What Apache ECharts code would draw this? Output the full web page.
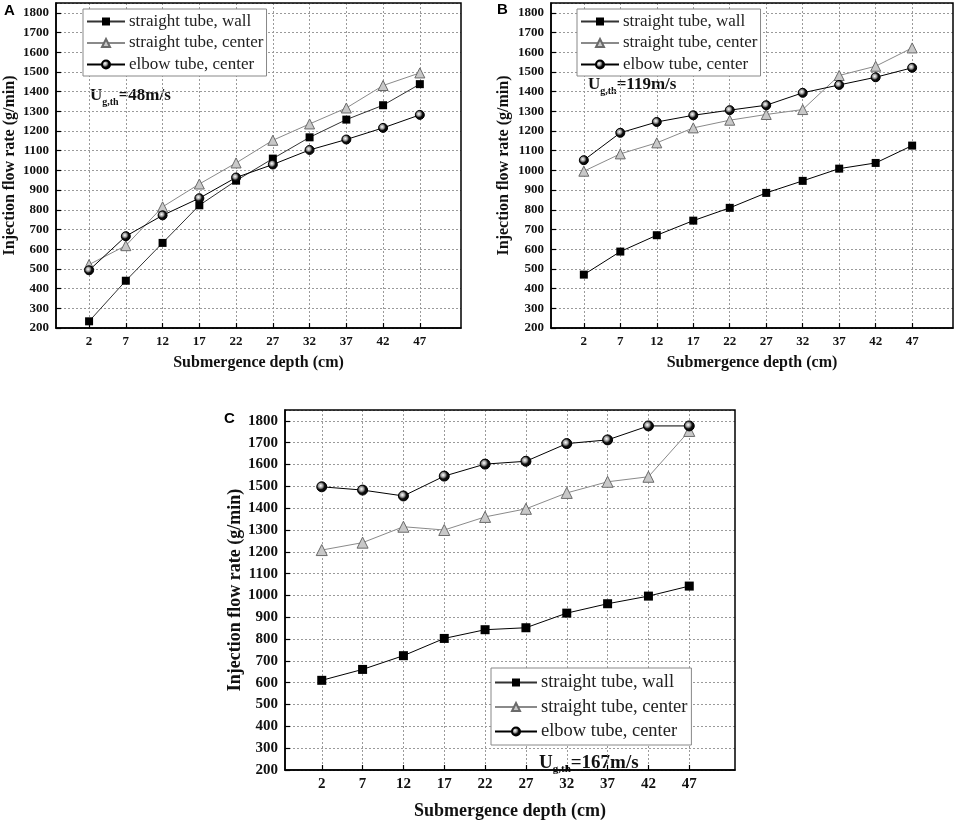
<!DOCTYPE html>
<html><head><meta charset="utf-8">
<script src="https://cdn.jsdelivr.net/npm/echarts@6/dist/echarts.min.js"></script>
<style>html,body{margin:0;padding:0;background:#fff}#c{width:957px;height:821px}</style>
</head><body><div id="c"></div>
<script>
// ---- data ----
const depths = [2, 7, 12, 17, 22, 27, 32, 37, 42, 47];
const seriesNames = ['straight tube, wall', 'straight tube, center', 'elbow tube, center'];
const aWall   = [234, 440, 632, 823, 948, 1060, 1168, 1258, 1331, 1438];
const aCenter = [522, 618, 815, 931, 1038, 1153, 1236, 1317, 1431, 1495];
const aElbow  = [493, 666, 772, 859, 964, 1030, 1104, 1157, 1216, 1282];
const bWall   = [471, 588, 671, 745, 810, 886, 947, 1009, 1038, 1126];
const bCenter = [996, 1084, 1140, 1216, 1255, 1284, 1309, 1482, 1529, 1622];
const bElbow  = [1052, 1191, 1246, 1280, 1306, 1331, 1394, 1434, 1473, 1521];
const cWall   = [611, 661, 724, 803, 843, 852, 919, 962, 997, 1043];
const cCenter = [1208, 1242, 1315, 1300, 1360, 1397, 1470, 1521, 1544, 1754];
const cElbow  = [1498, 1483, 1456, 1547, 1602, 1615, 1696, 1713, 1777, 1777];
const panelLetters = ['A', 'B', 'C'];
const velocityTexts = ['=48m/s', '=119m/s', '=167m/s'];
const xTitle = 'Submergence depth (cm)';
const yTitle = 'Injection flow rate (g/min)';

// ---- layout / style ----
const SERIF = '"Liberation Serif", "DejaVu Serif", serif';
const panels = [
  { grid: {left: 56, top: 3, width: 405, height: 325}, vals: [aWall, aCenter, aElbow],
    tick: 13, title: 16, xGap: 27, yGap: 38, legend: {left: 83, top: 9, font: 17, w: 38, gap: 4.5, pad: [4, 3, 3, 3]},
    sym: 8, letter: [4, 3], note: [90, 96, 17, 10] , wallColor: '#333'},
  { grid: {left: 551, top: 3, width: 402, height: 325}, vals: [bWall, bCenter, bElbow],
    tick: 13, title: 16, xGap: 27, yGap: 39, legend: {left: 577, top: 9, font: 17, w: 38, gap: 4.5, pad: [4, 3, 3, 3]},
    sym: 8, letter: [497, 2], note: [588, 85, 17, 10], wallColor: '#000'},
  { grid: {left: 285, top: 410, width: 450, height: 387}, vals: [cWall, cCenter, cElbow],
    tick: 15, title: 18, xGap: 32, yGap: 41, legend: {left: 491, top: 668, font: 18.5, w: 42, gap: 5.5, pad: [5, 4, 4, 3]},
    sym: 9, letter: [224, 411], note: [539, 763, 19, 11], wallColor: '#000'}
];

const ballGrad = {
  type: 'radial', x: 0.4, y: 0.4, r: 0.6,
  colorStops: [{offset: 0, color: '#ffffff'}, {offset: 0.35, color: '#9a9a9a'}, {offset: 0.6, color: '#111'}, {offset: 1, color: '#000'}]
};

const grids = [], xAxes = [], yAxes = [], series = [], legends = [], graphics = [];
panels.forEach((p, i) => {
  grids.push(Object.assign({show: true, borderColor: '#000', borderWidth: 1.5, backgroundColor: 'transparent', z: 3}, p.grid));
  xAxes.push({
    type: 'value', gridIndex: i, min: -2.5, max: 52.6,
    name: xTitle, nameLocation: 'middle', nameGap: p.xGap,
    nameTextStyle: {fontFamily: SERIF, fontWeight: 'bold', fontSize: p.title, color: '#111'},
    axisLine: {onZero: false, lineStyle: {color: '#000', width: 1.5}},
    axisTick: {inside: true, length: 5, customValues: depths, lineStyle: {color: '#000', width: 1.2}},
    axisLabel: {customValues: depths, margin: 7, fontFamily: SERIF, fontWeight: 'bold', fontSize: p.tick, color: '#111',
                formatter: v => String(v)},
    splitLine: {show: true, lineStyle: {color: '#9a9a9a', type: [2, 2], width: 1}}
  });
  yAxes.push({
    type: 'value', gridIndex: i, min: 200, max: 1850, interval: 100,
    name: yTitle, nameLocation: 'middle', nameGap: p.yGap,
    nameTextStyle: {fontFamily: SERIF, fontWeight: 'bold', fontSize: p.title, color: '#111'},
    axisLine: {onZero: false, lineStyle: {color: '#000', width: 1.5}},
    axisTick: {inside: true, length: 5, lineStyle: {color: '#000', width: 1.2}},
    axisLabel: {showMaxLabel: false, margin: 7, fontFamily: SERIF, fontWeight: 'bold', fontSize: p.tick, color: '#111',
                formatter: v => String(v)},
    splitLine: {show: true, lineStyle: {color: '#9a9a9a', type: [2, 2], width: 1}}
  });
  const styles = [
    {symbol: 'rect', size: p.sym, line: p.wallColor, item: {color: '#000', borderColor: '#000', borderWidth: 0}},
    {symbol: 'triangle', size: p.sym + 2, line: '#8a8a8a', item: {color: '#c8c8c8', borderColor: '#6a6a6a', borderWidth: 1}},
    {symbol: 'circle', size: p.sym + 1, line: '#000', item: {color: ballGrad, borderColor: '#000', borderWidth: 1}}
  ];
  p.vals.forEach((vals, k) => {
    series.push({
      type: 'line', name: seriesNames[k], xAxisIndex: i, yAxisIndex: i,
      data: depths.map((d, j) => [d, vals[j]]),
      symbol: styles[k].symbol, symbolSize: styles[k].size, showAllSymbol: true,
      lineStyle: {color: styles[k].line, width: 1}, itemStyle: styles[k].item,
      emphasis: {disabled: true}, animation: false, z: 2 + k
    });
  });
  legends.push({
    orient: 'vertical', left: p.legend.left, top: p.legend.top, padding: p.legend.pad,
    itemWidth: p.legend.w, itemHeight: 10, itemGap: p.legend.gap,
    backgroundColor: '#fff', borderColor: '#888', borderWidth: 1, selectedMode: false,
    data: seriesNames.slice(),
    textStyle: {fontFamily: SERIF, fontSize: p.legend.font, color: '#222', padding: [0, 0, 0, -1]}
  });
  graphics.push({
    type: 'text', left: p.letter[0], top: p.letter[1],
    style: {text: panelLetters[i], font: 'bold 15px "Liberation Sans", Arial, sans-serif', fill: '#000'}
  });
  graphics.push({
    type: 'text', x: p.note[0], y: p.note[1],
    style: {
      text: '{u|U}{s|g,th}{u|' + velocityTexts[i] + '}', verticalAlign: 'middle', align: 'left',
      rich: {
        u: {fontFamily: SERIF, fontWeight: 'bold', fontSize: p.note[2], fill: '#111', color: '#111'},
        s: {fontFamily: SERIF, fontWeight: 'bold', fontSize: p.note[3], fill: '#111', color: '#111', padding: [p.note[2] * 0.7, 0, 0, 0]}
      }
    }
  });
});

const chart = echarts.init(document.getElementById('c'), null, {renderer: 'canvas'});
chart.setOption({
  backgroundColor: '#fff', animation: false,
  grid: grids, xAxis: xAxes, yAxis: yAxes, series: series, legend: legends, graphic: graphics
});
</script></body></html>
